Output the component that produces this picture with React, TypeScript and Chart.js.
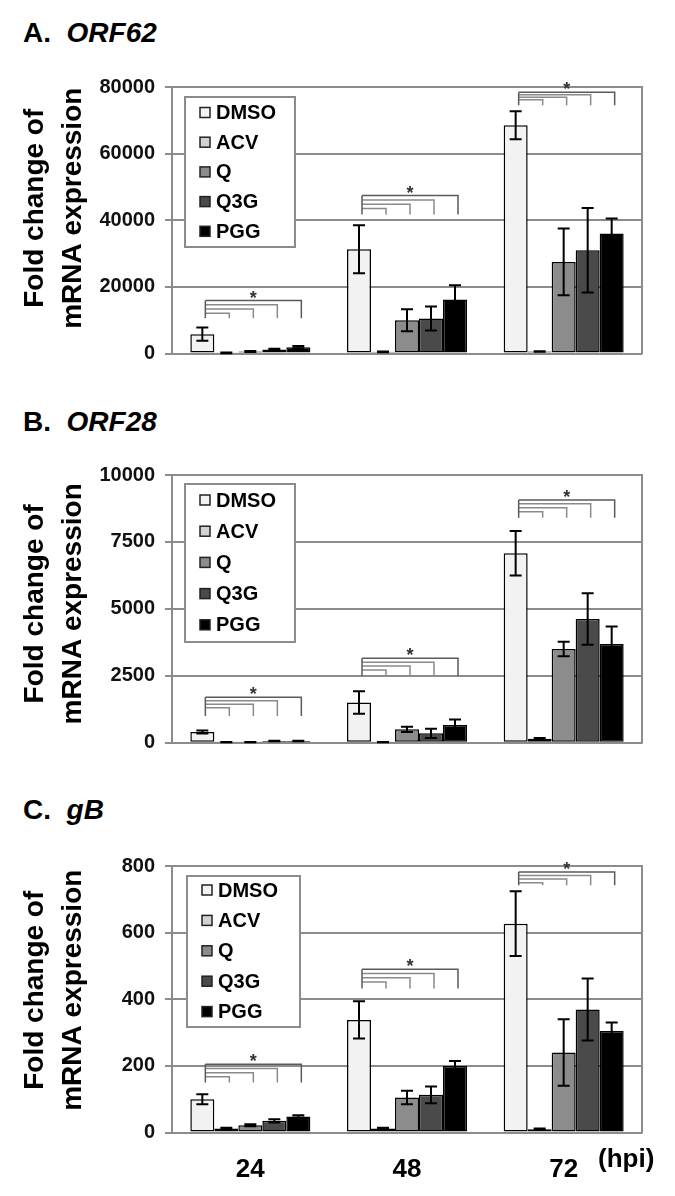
import React, { useEffect, useRef } from "react";
import { Chart, registerables } from "chart.js";

Chart.register(...registerables);

const FONT = "'Liberation Sans', Arial, sans-serif";

// Shared categories / series
const hpiLabels = ["24", "48", "72"];
const seriesNames = ["DMSO", "ACV", "Q", "Q3G", "PGG"];
const seriesColors = ["#f2f2f2", "#d2d2d2", "#8c8c8c", "#4a4a4a", "#000000"];
const yTitleLines = ["Fold change of", "mRNA expression"];

// Panel A: ORF62
const orf62DMSO = [5800, 31300, 68500];
const orf62ACV = [200, 500, 600];
const orf62Q = [600, 10000, 27500];
const orf62Q3G = [1200, 10500, 31000];
const orf62PGG = [1900, 16200, 36000];
const orf62DMSOErr = [2000, 7200, 4200];
const orf62ACVErr = [100, 100, 100];
const orf62QErr = [150, 3300, 10000];
const orf62Q3GErr = [250, 3600, 12700];
const orf62PGGErr = [350, 4300, 4500];
const orf62Ticks = [0, 20000, 40000, 60000, 80000];
// bracket levels per time point: [top line, lowest line, drop end]
const orf62Brackets = [
  [15900, 12100, 10600],
  [47400, 43500, 41700],
  [78400, 76200, 74500],
];

// Panel B: ORF28
const orf28DMSO = [400, 1500, 7075];
const orf28ACV = [20, 20, 150];
const orf28Q = [20, 500, 3500];
const orf28Q3G = [60, 350, 4620];
const orf28PGG = [60, 660, 3690];
const orf28DMSOErr = [60, 420, 830];
const orf28ACVErr = [5, 5, 30];
const orf28QErr = [5, 100, 270];
const orf28Q3GErr = [10, 170, 960];
const orf28PGGErr = [10, 210, 650];
const orf28Ticks = [0, 2500, 5000, 7500, 10000];
const orf28Brackets = [
  [1700, 1310, 1000],
  [3150, 2720, 2490],
  [9070, 8630, 8400],
];

// Panel C: gB
const gbDMSO = [100, 338, 627];
const gbACV = [12, 12, 10];
const gbQ = [22, 105, 240];
const gbQ3G = [35, 113, 369];
const gbPGG = [48, 200, 305];
const gbDMSOErr = [15, 56, 97];
const gbACVErr = [2, 2, 2];
const gbQErr = [3, 20, 100];
const gbQ3GErr = [5, 25, 93];
const gbPGGErr = [4, 15, 25];
const gbTicks = [0, 200, 400, 600, 800];
const gbBrackets = [
  [205, 167, 150],
  [490, 452, 432],
  [782, 750, 742],
];

type PanelCfg = {
  letter: string;
  gene: string;
  values: number[][];
  errors: number[][];
  ticks: number[];
  brackets: number[][];
  canvasTop: number;
  canvasHeight: number;
  padTop: number;
  padBottom: number;
  showX: boolean;
  xHeight: number;
  titleTop: number;
  yTitleShift: number;
  legend: { dx: number; dy: number; w: number; h: number; first: number; gap: number };
};

const panels: PanelCfg[] = [
  {
    letter: "A.",
    gene: "ORF62",
    values: [orf62DMSO, orf62ACV, orf62Q, orf62Q3G, orf62PGG],
    errors: [orf62DMSOErr, orf62ACVErr, orf62QErr, orf62Q3GErr, orf62PGGErr],
    ticks: orf62Ticks,
    brackets: orf62Brackets,
    canvasTop: 0,
    canvasHeight: 390,
    padTop: 87,
    padBottom: 36.5,
    showX: false,
    xHeight: 0,
    titleTop: 19,
    yTitleShift: -12,
    legend: { dx: 13, dy: 10, w: 110, h: 150, first: 15.5, gap: 29.7 },
  },
  {
    letter: "B.",
    gene: "ORF28",
    values: [orf28DMSO, orf28ACV, orf28Q, orf28Q3G, orf28PGG],
    errors: [orf28DMSOErr, orf28ACVErr, orf28QErr, orf28Q3GErr, orf28PGGErr],
    ticks: orf28Ticks,
    brackets: orf28Brackets,
    canvasTop: 390,
    canvasHeight: 390,
    padTop: 85,
    padBottom: 37.3,
    showX: false,
    xHeight: 0,
    titleTop: 408,
    yTitleShift: -5,
    legend: { dx: 13, dy: 9, w: 110, h: 158, first: 16, gap: 31.2 },
  },
  {
    letter: "C.",
    gene: "gB",
    values: [gbDMSO, gbACV, gbQ, gbQ3G, gbPGG],
    errors: [gbDMSOErr, gbACVErr, gbQErr, gbQ3GErr, gbPGGErr],
    ticks: gbTicks,
    brackets: gbBrackets,
    canvasTop: 780,
    canvasHeight: 416,
    padTop: 86,
    padBottom: 0,
    showX: true,
    xHeight: 63.5,
    titleTop: 796,
    yTitleShift: -9,
    legend: { dx: 15, dy: 10, w: 113, h: 151, first: 14, gap: 30.4 },
  },
];

function makePlugins(p: PanelCfg) {
  const frame = {
    id: "frameRight",
    beforeDatasetsDraw(chart: any) {
      const { ctx, chartArea } = chart;
      ctx.save();
      ctx.strokeStyle = "#8c8c8c";
      ctx.lineWidth = 2;
      ctx.beginPath();
      ctx.moveTo(chartArea.right, chartArea.top - 1);
      ctx.lineTo(chartArea.right, chartArea.bottom + 1);
      ctx.stroke();
      ctx.restore();
    },
  };
  const yTitle = {
    id: "yTitle",
    afterDraw(chart: any) {
      const { ctx, chartArea } = chart;
      const cy = (chartArea.top + chartArea.bottom) / 2 + p.yTitleShift;
      ctx.save();
      ctx.translate(35.5, cy);
      ctx.rotate(-Math.PI / 2);
      ctx.font = `bold 28px ${FONT}`;
      ctx.fillStyle = "#000";
      ctx.textAlign = "center";
      ctx.textBaseline = "middle";
      yTitleLines.forEach((line, i) => ctx.fillText(line, 0, i * 38));
      ctx.restore();
    },
  };
  const errorBars = {
    id: "errorBars",
    afterDatasetsDraw(chart: any) {
      const { ctx } = chart;
      const y = chart.scales.y;
      ctx.save();
      ctx.strokeStyle = "#000";
      ctx.lineWidth = 2;
      chart.data.datasets.forEach((ds: any, i: number) => {
        const meta = chart.getDatasetMeta(i);
        meta.data.forEach((bar: any, j: number) => {
          const v = ds.data[j];
          const e = ds.errors[j];
          const yt = y.getPixelForValue(v + e);
          const yb = y.getPixelForValue(Math.max(0, v - e));
          const cap = 6;
          ctx.beginPath();
          ctx.moveTo(bar.x, yt);
          ctx.lineTo(bar.x, yb);
          ctx.moveTo(bar.x - cap, yt);
          ctx.lineTo(bar.x + cap, yt);
          ctx.moveTo(bar.x - cap, yb);
          ctx.lineTo(bar.x + cap, yb);
          ctx.stroke();
        });
      });
      ctx.restore();
    },
  };
  const brackets = {
    id: "sigBrackets",
    afterDatasetsDraw(chart: any) {
      const { ctx } = chart;
      const y = chart.scales.y;
      const n = chart.data.datasets.length;
      const off = 3;
      ctx.save();
      p.brackets.forEach((b, j) => {
        const [top, low, base] = b;
        const x0 = chart.getDatasetMeta(0).data[j].x + off;
        const yBase = y.getPixelForValue(base);
        const yTop = y.getPixelForValue(top);
        const yLow = y.getPixelForValue(low);
        ctx.lineWidth = 1.5;
        for (let k = n - 1; k >= 1; k--) {
          const xk = chart.getDatasetMeta(k).data[j].x + off;
          const t = (n - 1 - k) / (n - 2);
          const yk = yTop + (yLow - yTop) * t;
          ctx.strokeStyle = k === n - 1 ? "#5a5a5a" : "#8a8a8a";
          ctx.beginPath();
          ctx.moveTo(x0, yk);
          ctx.lineTo(xk, yk);
          ctx.lineTo(xk, yBase);
          ctx.stroke();
        }
        ctx.strokeStyle = "#5a5a5a";
        ctx.beginPath();
        ctx.moveTo(x0, yTop);
        ctx.lineTo(x0, yBase);
        ctx.stroke();
        const xEnd = chart.getDatasetMeta(n - 1).data[j].x + off;
        ctx.fillStyle = "#333";
        ctx.font = `bold 18px ${FONT}`;
        ctx.textAlign = "center";
        ctx.textBaseline = "alphabetic";
        ctx.fillText("*", (x0 + xEnd) / 2, yTop + 3);
      });
      ctx.restore();
    },
  };
  const boxLegend = {
    id: "boxLegend",
    afterDraw(chart: any) {
      const { ctx, chartArea } = chart;
      const L = p.legend;
      const x0 = chartArea.left + L.dx;
      const y0 = chartArea.top + L.dy;
      ctx.save();
      ctx.fillStyle = "#fff";
      ctx.fillRect(x0, y0, L.w, L.h);
      ctx.strokeStyle = "#8c8c8c";
      ctx.lineWidth = 2;
      ctx.strokeRect(x0, y0, L.w, L.h);
      chart.data.datasets.forEach((ds: any, i: number) => {
        const cy = y0 + L.first + i * L.gap;
        ctx.fillStyle = ds.backgroundColor;
        ctx.fillRect(x0 + 15, cy - 5, 10, 10);
        ctx.strokeStyle = "#222";
        ctx.lineWidth = 1.5;
        ctx.strokeRect(x0 + 15, cy - 5, 10, 10);
        ctx.fillStyle = "#000";
        ctx.font = `bold 20px ${FONT}`;
        ctx.textAlign = "left";
        ctx.textBaseline = "middle";
        ctx.fillText(ds.label, x0 + 31, cy + 1);
      });
      ctx.restore();
    },
  };
  return [frame, errorBars, brackets, boxLegend, yTitle];
}

function Panel({ p }: { p: PanelCfg }) {
  const ref = useRef<HTMLCanvasElement | null>(null);
  useEffect(() => {
    if (!ref.current) return;
    const chart = new Chart(ref.current, {
      type: "bar",
      data: {
        labels: hpiLabels,
        datasets: seriesNames.map((name, i) => ({
          label: name,
          data: p.values[i],
          errors: p.errors[i],
          backgroundColor: seriesColors[i],
          borderColor: "#000",
          borderWidth: 1.5,
          borderSkipped: false,
          barPercentage: 1,
          categoryPercentage: 0.766,
        })) as any,
      },
      options: {
        animation: false,
        responsive: false,
        maintainAspectRatio: false,
        events: [],
        layout: { padding: { top: p.padTop, bottom: p.padBottom, left: 0, right: 33 } },
        plugins: {
          legend: { display: false },
          tooltip: { enabled: false },
          title: { display: false },
        },
        scales: {
          x: {
            display: p.showX,
            grid: { display: false },
            border: { display: false },
            ticks: {
              font: { family: FONT, size: 26, weight: "bold" },
              color: "#000",
              padding: 14,
            },
            afterFit: (s: any) => {
              s.paddingLeft = 0;
              s.paddingRight = 0;
              if (p.showX) s.height = p.xHeight;
            },
          },
          y: {
            min: p.ticks[0],
            max: p.ticks[p.ticks.length - 1],
            afterBuildTicks: (s: any) => {
              s.ticks = p.ticks.map((v) => ({ value: v }));
            },
            ticks: {
              font: { family: FONT, size: 20, weight: "bold" },
              color: "#111",
              padding: 10,
              callback: (v: any) => String(v),
            },
            grid: { color: "#8c8c8c", lineWidth: 2, tickLength: 7 },
            border: { display: true, color: "#8c8c8c", width: 2 },
            title: { display: false },
            afterFit: (s: any) => {
              s.width = 172;
              s.paddingTop = 0;
              s.paddingBottom = 0;
            },
          },
        },
      } as any,
      plugins: makePlugins(p) as any,
    });
    return () => chart.destroy();
  }, [p]);
  return (
    <>
      <div
        style={{
          position: "absolute",
          left: 23,
          top: p.titleTop,
          fontFamily: FONT,
          fontSize: 28,
          lineHeight: "28px",
          fontWeight: "bold",
          color: "#000",
          whiteSpace: "pre",
        }}
      >
        {p.letter + "  "}
        <i>{p.gene}</i>
      </div>
      <canvas
        ref={ref}
        width={675}
        height={p.canvasHeight}
        style={{ position: "absolute", left: 0, top: p.canvasTop, width: 675, height: p.canvasHeight }}
      />
    </>
  );
}

export default function App() {
  return (
    <div style={{ position: "absolute", left: 0, top: 0, width: 675, height: 1196, background: "#fff" }}>
      {panels.map((p) => (
        <Panel key={p.letter} p={p} />
      ))}
      <div
        style={{
          position: "absolute",
          left: 598,
          top: 1145,
          fontFamily: FONT,
          fontSize: 26,
          lineHeight: "26px",
          fontWeight: "bold",
          color: "#000",
        }}
      >
        (hpi)
      </div>
    </div>
  );
}
